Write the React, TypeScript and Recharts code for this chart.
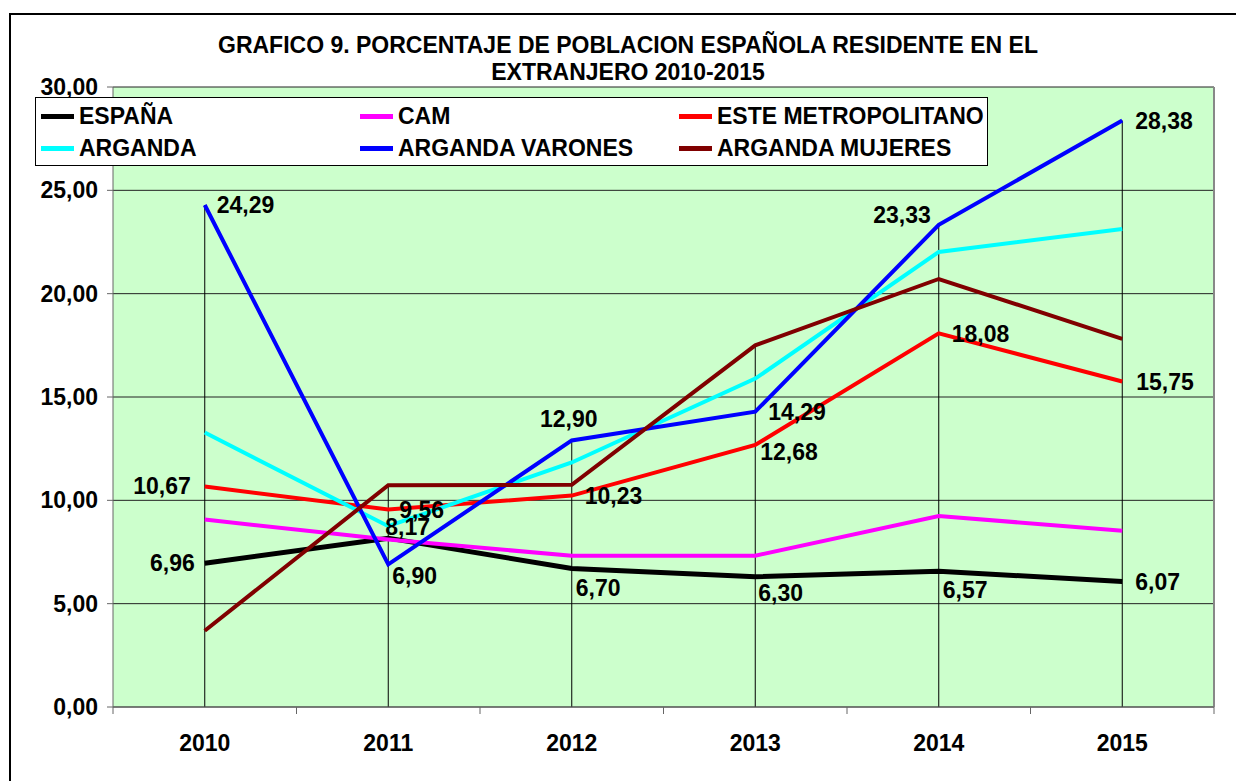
import React from 'react';
import { LineChart, Line, XAxis, YAxis, CartesianGrid, ReferenceLine } from 'recharts';

// años (categorías del eje X)
const years = ['2010', '2011', '2012', '2013', '2014', '2015'];

// series (% de población española residente en el extranjero)
const espana = [6.96, 8.17, 6.7, 6.3, 6.57, 6.07];
const cam = [9.07, 8.1, 7.32, 7.32, 9.24, 8.53];
const esteMetropolitano = [10.67, 9.56, 10.23, 12.68, 18.08, 15.75];
const arganda = [13.28, 8.75, 11.83, 15.89, 22.02, 23.13];
const argandaVarones = [24.29, 6.9, 12.9, 14.29, 23.33, 28.38];
const argandaMujeres = [3.69, 10.73, 10.75, 17.5, 20.71, 17.81];

const yTicks = [0, 5, 10, 15, 20, 25, 30];

const FONT = '"Liberation Sans", Arial, sans-serif';
const FS = 23;

// colocación de las etiquetas de datos (dx, dy, anchor) respecto al punto
type Place = [number, number, 'start' | 'middle' | 'end'];
const espanaPlace: Place[] = [[-10, 0, 'end'], [-3, -11, 'start'], [4, 19, 'start'], [3, 16, 'start'], [4, 18, 'start'], [13, 0, 'start']];
const estePlace: Place[] = [[-14, -1, 'end'], [11, 0, 'start'], [13, 0, 'start'], [5, 7, 'start'], [13, 0, 'start'], [14, 0, 'start']];
const varonesPlace: Place[] = [[12, 0, 'start'], [4, 11, 'start'], [-3, -22, 'middle'], [13, 0, 'start'], [-8, -10, 'end'], [13, 0, 'start']];

const series = [
  { key: 'espana', name: 'ESPAÑA', color: '#000000', values: espana, place: espanaPlace, width: 5 },
  { key: 'cam', name: 'CAM', color: '#FF00FF', values: cam, place: null, width: 4 },
  { key: 'este', name: 'ESTE METROPOLITANO', color: '#FF0000', values: esteMetropolitano, place: estePlace, width: 4 },
  { key: 'arganda', name: 'ARGANDA', color: '#00FFFF', values: arganda, place: null, width: 4 },
  { key: 'varones', name: 'ARGANDA VARONES', color: '#0000FF', values: argandaVarones, place: varonesPlace, width: 4 },
  { key: 'mujeres', name: 'ARGANDA MUJERES', color: '#800000', values: argandaMujeres, place: null, width: 4 },
];

const data = years.map((year, i) => {
  const row: any = { idx: i, year };
  series.forEach((s) => { row[s.key] = s.values[i]; });
  return row;
});

// líneas de proyección: desde el máximo de cada año hasta el eje
const dropMax = years.map((_, i) => Math.max(...series.map((s) => s.values[i])));

const fmt = (v: number) => v.toFixed(2).replace('.', ',');

const xTickValues = [-0.5, 0, 0.5, 1, 1.5, 2, 2.5, 3, 3.5, 4, 4.5, 5, 5.5];

const XTick = ({ x, y, payload }: any) => {
  const v = payload.value;
  if (Number.isInteger(v)) {
    return (
      <text x={x} y={y + 36} dy="0.36em" textAnchor="middle"
        fontFamily={FONT} fontWeight="bold" fontSize={FS} fill="#000">
        {years[v]}
      </text>
    );
  }
  return <line x1={x} x2={x} y1={y} y2={y + 7} stroke="#666" strokeWidth={1} />;
};

const makeLabel = (place: Place[]) => (props: any) => {
  const { x, y, value, index } = props;
  const [dx, dy, anchor] = place[index];
  return (
    <text key={`lbl-${index}`} x={x + dx} y={y + dy} dy="0.36em" textAnchor={anchor}
      fontFamily={FONT} fontWeight="bold" fontSize={FS} fill="#000">
      {fmt(value)}
    </text>
  );
};

const LegendBox = () => (
  <div style={{
    position: 'absolute', left: 35, top: 97, width: 951, height: 67, background: '#fff',
    border: '1px solid #000', fontFamily: FONT, fontWeight: 'bold', fontSize: FS, color: '#000',
  }}>
    {series.map((s, i) => (
      <div key={s.key} style={{
        position: 'absolute', left: 5 + (i % 3) * 319, top: i < 3 ? 5 : 37,
        display: 'flex', alignItems: 'center', height: 26, whiteSpace: 'nowrap',
      }}>
        <div style={{ width: 33, height: 5, background: s.color, marginRight: 5 }} />
        <span>{s.name}</span>
      </div>
    ))}
  </div>
);

export default function App() {
  return (
    <div style={{ position: 'fixed', left: 0, top: 0, width: 1236, height: 781, overflow: 'hidden', background: '#fff' }}>
      <div style={{ position: 'absolute', left: 9, top: 13, width: 1400, height: 1000, border: '2px solid #000' }} />
      <div style={{
        position: 'absolute', left: 0, top: 32, width: 1256, textAlign: 'center',
        fontFamily: FONT, fontWeight: 'bold', fontSize: FS, lineHeight: '27px', color: '#000',
      }}>
        GRAFICO 9. PORCENTAJE DE POBLACION ESPAÑOLA RESIDENTE EN EL<br />EXTRANJERO 2010-2015
      </div>
      <div style={{ position: 'absolute', left: 0, top: 0 }}>
        <LineChart width={1236} height={781} data={data} margin={{ top: 87, right: 22, bottom: 34, left: 33 }}>
          <CartesianGrid vertical={false} horizontal stroke="#222" strokeWidth={1} fill="#CCFFCC" />
          <XAxis dataKey="idx" type="number" domain={[-0.5, 5.5]} ticks={xTickValues} interval={0}
            height={40} tickSize={0} tickMargin={0} tickLine={false} tick={<XTick />}
            axisLine={{ stroke: '#666', strokeWidth: 1 }} allowDecimals />
          <YAxis type="number" domain={[0, 30]} ticks={yTicks} interval={0} width={80}
            tickFormatter={fmt} tickSize={6} tickMargin={9}
            tick={{ fontFamily: FONT, fontWeight: 'bold', fontSize: FS, fill: '#000' }}
            axisLine={{ stroke: '#666', strokeWidth: 1 }} tickLine={{ stroke: '#666' }} />
          <ReferenceLine x={5.5} stroke="#888" strokeWidth={2} />
          {dropMax.map((m, i) => (
            <ReferenceLine key={`drop-${i}`} segment={[{ x: i, y: 0 }, { x: i, y: m }]}
              stroke="#000" strokeWidth={1} ifOverflow="visible" />
          ))}
          {series.map((s) => (
            <Line key={s.key} dataKey={s.key} name={s.name} stroke={s.color} strokeWidth={s.width}
              dot={false} activeDot={false} isAnimationActive={false} type="linear"
              label={s.place ? makeLabel(s.place) : false} />
          ))}
        </LineChart>
      </div>
      <LegendBox />
    </div>
  );
}
